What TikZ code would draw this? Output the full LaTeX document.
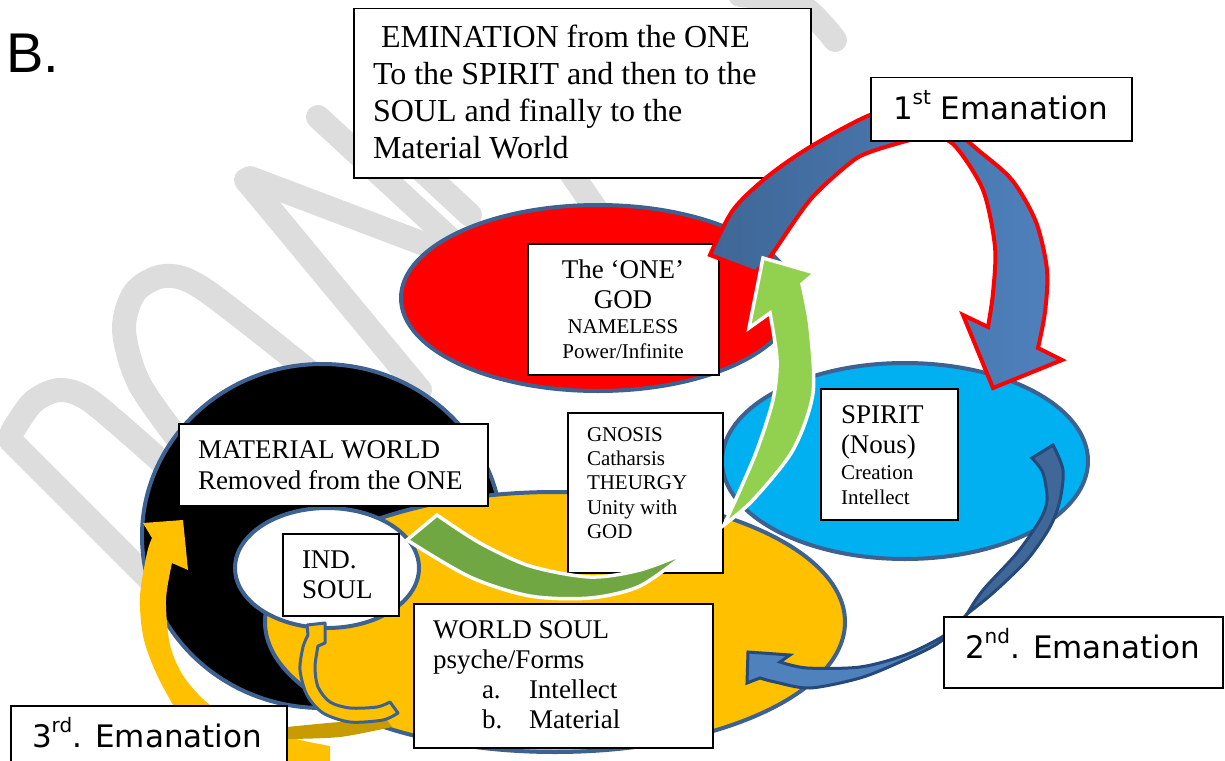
\documentclass[tikz,border=0pt]{standalone}
\usepackage{fontspec}
\setmainfont{Liberation Serif}
\newfontfamily\labsans{DejaVu Sans}
\newfontfamily\arialfont{Liberation Sans}
\usetikzlibrary{shapes.geometric}
\definecolor{ebord}{HTML}{3D6190}
\definecolor{cred}{HTML}{FF0000}
\definecolor{cblue}{HTML}{00B0F0}
\definecolor{cyel}{HTML}{FFC000}
\definecolor{cyeldark}{HTML}{C89B00}
\definecolor{glight}{HTML}{92D050}
\definecolor{gdark}{HTML}{71A743}
\definecolor{aone}{HTML}{3F6797}
\definecolor{atwo}{HTML}{4F81BD}
\definecolor{navy}{HTML}{24497A}
\definecolor{wmark}{HTML}{DDDDDD}
\tikzset{
 ell/.style={ellipse, draw=ebord, line width=4bp, inner sep=0pt},
 box/.style={rectangle, draw=black, line width=1.5bp, fill=white, anchor=north west, inner sep=0pt},
 tl/.style={anchor=base west, inner sep=0pt, outer sep=0pt},
 tc/.style={anchor=base, inner sep=0pt, outer sep=0pt},
 fbig/.style={font=\fontsize{27bp}{31bp}\selectfont},
 fsm/.style={font=\fontsize{21bp}{24bp}\selectfont},
 femi/.style={font=\fontsize{32bp}{37bp}\selectfont},
 flab/.style={font=\labsans\fontsize{31bp}{36bp}\selectfont},
 wm/.style={draw=wmark, line width=24bp, line cap=round, line join=round},
}
\newcommand{\supx}[1]{\raisebox{15bp}{\fontsize{20bp}{20bp}\selectfont #1}}
\begin{document}
\begin{tikzpicture}[x=1bp,y=-1bp]
\useasboundingbox (0,0) rectangle (1225,761);
% watermark
\draw[wm] (10,440) -- (150,580);
\draw[wm] plot[smooth] coordinates {(12,432) (33,402) (60,390) (92,402) (165,465)};
\draw[wm] plot[smooth] coordinates {(190,455) (140,385) (124,330) (135,292) (165,276) (205,290) (320,380)};
\draw[wm] (246,180) -- (420,390);
\draw[wm] (250,178) -- (440,250);
\draw[wm] (318,117) -- (500,285);
\draw[wm] (400,150) -- (470,215);
\draw[wm] (555,150) -- (600,215);
\draw[wm] plot[smooth] coordinates {(740,-5) (800,5) (835,40)};
% ellipses
\node[ell, fill=black, minimum width=360bp, minimum height=344bp] (matw) at (322,536) {};
\node[ell, fill=cred, minimum width=394bp, minimum height=186bp] (onee) at (598,298) {};
\node[ell, fill=cyel, minimum width=580bp, minimum height=260bp] (wsoul) at (555,622) {};
\node[ell, fill=cblue, minimum width=366bp, minimum height=196bp] (spir) at (905,461) {};
\node[ell, fill=white, minimum width=184bp, minimum height=120bp] (inds) at (327,568) {};
% boxes
\node[box, minimum width=457bp, minimum height=169bp] (emi) at (353,8) {};
\node[tl, femi] (emi1) at (381,48) {EMINATION from the ONE};
\node[tl, femi] (emi2) at (373,85) {To the SPIRIT and then to the};
\node[tl, femi] (emi3) at (373,122) {SOUL and finally to the};
\node[tl, femi] (emi4) at (373,158) {Material World};

\node[box, minimum width=191bp, minimum height=131bp] (onebox) at (527,243) {};
\node[tc, fbig] (one1) at (623,278) {The ‘ONE’};
\node[tc, fbig] (one2) at (623,308) {GOD};
\node[tc, fsm] (one3) at (623,333) {NAMELESS};
\node[tc, fsm] (one4) at (623,358) {Power/Infinite};

\node[box, minimum width=137bp, minimum height=131bp] (spbox) at (820,388) {};
\node[tl, fbig] (sp1) at (841,423) {SPIRIT};
\node[tl, fbig] (sp2) at (841,453) {(Nous)};
\node[tl, fsm] (sp3) at (841,479) {Creation};
\node[tl, fsm] (sp4) at (841,504) {Intellect};

\node[box, minimum width=309bp, minimum height=82bp] (mwbox) at (178,423) {};
\node[tl, fbig] (mw1) at (198,458) {MATERIAL WORLD};
\node[tl, fbig] (mw2) at (198,489) {Removed from the ONE};

\node[box, minimum width=116bp, minimum height=82bp] (indbox) at (282,533) {};
\node[tl, fbig] (ind1) at (302,568) {IND.};
\node[tl, fbig] (ind2) at (302,598) {SOUL};

\node[box, minimum width=299bp, minimum height=144bp] (wsbox) at (413,603) {};
\node[tl, fbig] (ws1) at (433,638) {WORLD SOUL};
\node[tl, fbig] (ws2) at (433,668) {psyche/Forms};
\node[tl, fbig] (ws3) at (482,698) {a.};
\node[tl, fbig] (ws4) at (529,698) {Intellect};
\node[tl, fbig] (ws5) at (482,728) {b.};
\node[tl, fbig] (ws6) at (529,728) {Material};

\node[box, minimum width=155bp, minimum height=160bp] (gnbox) at (567,412) {};
\node[tl, fsm] (gn1) at (587,441) {GNOSIS};
\node[tl, fsm] (gn2) at (587,465) {Catharsis};
\node[tl, fsm] (gn3) at (587,489) {THEURGY};
\node[tl, fsm] (gn4) at (587,514) {Unity with};
\node[tl, fsm] (gn5) at (587,538) {GOD};

% 3rd emanation (yellow) arrow
\fill[cyel] (183,520) -- (188,570) -- (172,563)
 -- plot[smooth] coordinates {(172,563) (166,600) (170,645) (184,677) (210,705) (250,727) (300,740) (330,746)}
 -- (330,780)
 -- plot[smooth] coordinates {(330,780) (250,770) (195,735) (162,685) (144,640) (140,597) (147,553) (152,538)}
 -- (143,523) -- cycle;
\fill[cyeldark] plot[smooth] coordinates {(287,727) (340,722) (387,720)} -- (392,727)
 -- plot[smooth] coordinates {(392,727) (340,737) (287,739)} -- cycle;
% small arrow into IND. SOUL
\filldraw[draw=ebord, fill=cyel, line width=3bp, line join=round] (307,625) -- (325,623) -- (325,643) -- (318,646)
 -- plot[smooth] coordinates {(318,646) (315,667) (318,687) (330,702) (350,708) (377,707) (390,702)}
 -- (398,713)
 -- plot[smooth] coordinates {(398,713) (383,720) (350,722) (323,713) (307,695) (300,670) (303,647) (308,635)}
 -- cycle;
% 1st emanation arrow
\filldraw[draw=red, line width=4bp, left color=aone, right color=atwo]
 plot[smooth] coordinates {(710,255) (733,210) (767,177) (810,147) (870,115) (910,108) (945,123) (978,150) (1012,180) (1036,222) (1047,270) (1045,312) (1038,348)}
 -- (1062,360) -- (993,388) -- (963,315) -- (988,327)
 -- plot[smooth] coordinates {(988,327) (993,293) (995,247) (983,190) (955,146) (933,136) (910,140) (870,152) (850,163) (810,200) (770,257) (755,272)}
 -- cycle;
% green arrow (Gnosis)
\filldraw[draw=white, line width=3.5bp, fill=gdark]
 plot[smooth] coordinates {(437,515) (480,543) (530,566) (590,577) (640,570) (688,552)}
 -- plot[smooth] coordinates {(688,552) (640,586) (590,598) (530,596) (470,577) (407,540)}
 -- cycle;
\filldraw[draw=white, line width=3.5bp, fill=glight]
 (763,258) -- (815,273) -- (802,284)
 -- plot[smooth] coordinates {(802,284) (810,327) (813,393) (793,450) (753,500) (724,525)}
 -- plot[smooth] coordinates {(724,525) (740,490) (757,450) (773,400) (777,360) (770,313)}
 -- (749,328) -- cycle;
% 2nd emanation arrow
\filldraw[draw=navy, line width=3bp, fill=aone]
 plot[smooth] coordinates {(1053,445) (1063,470) (1060,500) (1050,527) (1027,560) (993,593) (967,614)}
 -- plot[smooth] coordinates {(967,614) (983,590) (1017,553) (1040,520) (1047,500) (1043,473) (1032,458)}
 -- cycle;
\filldraw[draw=navy, line width=3bp, fill=atwo]
 (748,652) -- (790,655) -- (780,662)
 -- plot[smooth] coordinates {(780,662) (807,668) (860,667) (905,655) (945,635) (967,614)}
 -- plot[smooth] coordinates {(967,614) (940,642) (900,662) (860,678) (810,688) (775,682) (760,678)}
 -- (747,683) -- cycle;
% emanation labels
\node[box, minimum width=261bp, minimum height=63bp] (lab1) at (870,77) {};
\node[tl, flab] (lab1t) at (893,120) {1\supx{st} Emanation};
\node[box, minimum width=279bp, minimum height=71bp] (lab2) at (943,616) {};
\node[tl, flab] (lab2t) at (965,658) {2\supx{nd}. Emanation};
\node[box, minimum width=276bp, minimum height=70bp] (lab3) at (10,705) {};
\node[tl, flab] (lab3t) at (32,747) {3\supx{rd}. Emanation};
\node[tl, font=\arialfont\fontsize{56bp}{60bp}\selectfont] (blab) at (6,73) {B.};
\end{tikzpicture}
\end{document}
